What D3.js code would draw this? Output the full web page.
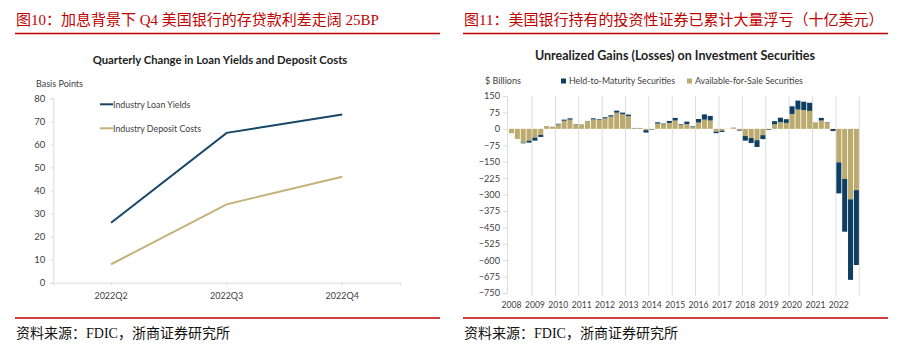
<!DOCTYPE html>
<html><head><meta charset="utf-8">
<script src="https://cdn.jsdelivr.net/npm/d3@7"></script>
<style>body{margin:0;background:#fff}svg{display:block}</style>
</head><body>
<svg id="c" width="908" height="355"></svg>
<script>
// ---------- data ----------
const lineCats = ["2022Q2", "2022Q3", "2022Q4"];
const loanYields = [26, 65, 73];
const depositCosts = [8, 34, 46];
const leftYTicks = [0, 10, 20, 30, 40, 50, 60, 70, 80];

const years = [2008, 2009, 2010, 2011, 2012, 2013, 2014, 2015, 2016, 2017, 2018, 2019, 2020, 2021, 2022];
const quarters = ["Q1", "Q2", "Q3", "Q4"];
const afsValues = [-20, -46, -63, -54, -40, -28, 13, 8, 20, 37,
  42, 21, 19, 35, 43, 41, 48, 56, 74, 67,
  58, 3, 3, -6, -2, 24, 21, 27, 38, 18,
  22, 8, 29, 42, 38, -13, -8, 1, 4, -5,
  -33, -42, -52, -29, -1, 21, 31, 27, 68, 88,
  86, 82, 28, 38, 28, -1, -153, -229, -322, -280];
const htmValues = [0, 0, -3, -9, -14, -9, 0, 1, 3, 5,
  6, 1, 1, 1, 5, 3, 5, 6, 9, 7,
  7, 1, 1, -11, -2, 6, 3, 9, 12, 3,
  11, 3, 16, 24, 21, -7, -6, 0, 1, -3,
  -21, -23, -31, -18, -3, 14, 20, 17, 35, 41,
  38, 37, 1, 12, 2, -9, -142, -241, -368, -342];
const rightYTicks = [150, 75, 0, -75, -150, -225, -300, -375, -450, -525, -600, -675, -750];

// ---------- styles ----------
const RED = "#c00000";
const NAVY = "#0e3f62";
const TAN = "#bcab6f";
const CJK = "'Liberation Serif','Noto Sans CJK SC',serif";
const SANS = "Lato, 'Open Sans', sans-serif";
const GRID = "#dcdcdc";
const TXT = "#404040";

const svg = d3.select("#c");
svg.append("rect").attr("width", 908).attr("height", 355).attr("fill", "#fff");

// headers and footers
function frame(x0, x1, title) {
  svg.append("text").attr("x", x0 + 1).attr("y", 25).attr("fill", RED)
    .attr("font-family", CJK).attr("font-size", 15).text(title);
  svg.append("line").attr("x1", x0).attr("x2", x1).attr("y1", 33.5).attr("y2", 33.5)
    .attr("stroke", RED).attr("stroke-width", 1.5);
  svg.append("line").attr("x1", x0).attr("x2", x1).attr("y1", 318).attr("y2", 318)
    .attr("stroke", RED).attr("stroke-width", 1.5);
  svg.append("text").attr("x", x0 + 1).attr("y", 338).attr("fill", "#111")
    .attr("font-family", CJK).attr("font-size", 14).text("资料来源：FDIC，浙商证券研究所");
}
frame(15, 440, "图10：加息背景下 Q4 美国银行的存贷款利差走阔 25BP");
frame(463, 888, "图11：美国银行持有的投资性证券已累计大量浮亏（十亿美元）");

// ---------- left chart ----------
{
  const g = svg.append("g");
  const x = d3.scaleBand().domain(lineCats).range([53.3, 400]);
  const y = d3.scaleLinear().domain([0, 80]).range([282.7, 98.3]);
  g.append("text").attr("x", 220).attr("y", 64).attr("text-anchor", "middle")
    .attr("font-family", SANS).attr("font-weight", "bold").attr("font-size", 11.3)
    .attr("fill", "#222").text("Quarterly Change in Loan Yields and Deposit Costs");
  g.append("text").attr("x", 36).attr("y", 86.5).attr("font-family", SANS)
    .attr("font-size", 9).attr("fill", TXT).text("Basis Points");

  const ya = g.append("g").attr("transform", "translate(53.3,0)")
    .call(d3.axisLeft(y).tickValues(leftYTicks).tickSize(3).tickPadding(5));
  ya.select(".domain").attr("stroke", GRID);
  ya.selectAll(".tick line").attr("stroke", GRID);
  ya.selectAll("text").attr("font-family", SANS).attr("font-size", 9.5).attr("fill", TXT);

  const xa = g.append("g").attr("transform", "translate(0,282.7)")
    .call(d3.axisBottom(x).tickSize(3).tickPadding(7).tickSizeOuter(3));
  xa.select(".domain").attr("stroke", GRID);
  xa.selectAll(".tick line").attr("stroke", GRID);
  xa.selectAll("text").attr("font-family", SANS).attr("font-size", 9).attr("fill", TXT);

  const line = d3.line().x((d, i) => x(lineCats[i]) + x.bandwidth() / 2).y(d => y(d));
  g.append("path").datum(loanYields).attr("d", line).attr("fill", "none")
    .attr("stroke", "#174668").attr("stroke-width", 2);
  g.append("path").datum(depositCosts).attr("d", line).attr("fill", "none")
    .attr("stroke", "#c4b27c").attr("stroke-width", 2);

  const leg = [["Industry Loan Yields", "#174668", 104.3], ["Industry Deposit Costs", "#c4b27c", 128.3]];
  leg.forEach(([t, c, yy]) => {
    g.append("line").attr("x1", 100).attr("x2", 113).attr("y1", yy).attr("y2", yy)
      .attr("stroke", c).attr("stroke-width", 2);
    g.append("text").attr("x", 113).attr("y", yy + 3.2).attr("font-family", SANS)
      .attr("font-size", 8.8).attr("fill", TXT).text(t);
  });
}

// ---------- right chart ----------
{
  const g = svg.append("g");
  const ids = [];
  years.forEach(yr => quarters.forEach(q => ids.push(yr + q)));
  const rows = ids.map((id, i) => ({ id, afs: afsValues[i], htm: htmValues[i] }));
  const pad = 0.14;
  const x = d3.scaleBand().domain(ids).range([508.6, 859.3]).paddingInner(pad).paddingOuter(pad / 2);
  const y = d3.scaleLinear().domain([-750, 150]).range([293, 96]);

  g.append("text").attr("x", 675).attr("y", 60).attr("text-anchor", "middle")
    .attr("font-family", SANS).attr("font-weight", "bold").attr("font-size", 12.5)
    .attr("fill", "#222").text("Unrealized Gains (Losses) on Investment Securities");
  g.append("text").attr("x", 485).attr("y", 84).attr("font-family", SANS)
    .attr("font-size", 9).attr("fill", TXT).text("$ Billions");

  const legs = [["Held-to-Maturity Securities", NAVY, 561], ["Available-for-Sale Securities", TAN, 687]];
  legs.forEach(([t, c, xx]) => {
    g.append("rect").attr("x", xx).attr("y", 78.5).attr("width", 5).attr("height", 5).attr("fill", c);
    g.append("text").attr("x", xx + 8).attr("y", 84).attr("font-family", SANS)
      .attr("font-size", 8.8).attr("fill", TXT).text(t);
  });

  // vertical year gridlines
  const step = x.step();
  const r0 = x.range()[0];
  g.append("g").selectAll("line").data(years).join("line")
    .attr("x1", (d, k) => r0 + step * 4 * (k + 1)).attr("x2", (d, k) => r0 + step * 4 * (k + 1))
    .attr("y1", 96).attr("y2", 296).attr("stroke", GRID).attr("stroke-width", 1);

  const ya = g.append("g").attr("transform", "translate(507,0)")
    .call(d3.axisLeft(y).tickValues(rightYTicks).tickSize(4).tickPadding(3).tickFormat(d3.format("d")));
  ya.select(".domain").attr("stroke", GRID);
  ya.selectAll(".tick line").attr("stroke", GRID);
  ya.selectAll("text").attr("font-family", SANS).attr("font-size", 9.2).attr("fill", TXT);

  const stack = d3.stack().keys(["afs", "htm"]).offset(d3.stackOffsetDiverging);
  const series = stack(rows);
  const colors = { afs: TAN, htm: NAVY };
  g.append("g").selectAll("g").data(series).join("g").attr("fill", s => colors[s.key])
    .selectAll("rect").data(s => s).join("rect")
    .attr("x", d => x(d.data.id)).attr("width", x.bandwidth())
    .attr("y", d => y(Math.max(d[0], d[1])))
    .attr("height", d => Math.abs(y(d[0]) - y(d[1])));

  // year labels under Q1 bars
  g.append("g").selectAll("text").data(years).join("text")
    .attr("x", yr => x(yr + "Q1") + x.bandwidth() / 2).attr("y", 307.5)
    .attr("text-anchor", "middle").attr("font-family", SANS).attr("font-size", 8.6)
    .attr("fill", TXT).text(yr => yr);
}
</script>
</body></html>
